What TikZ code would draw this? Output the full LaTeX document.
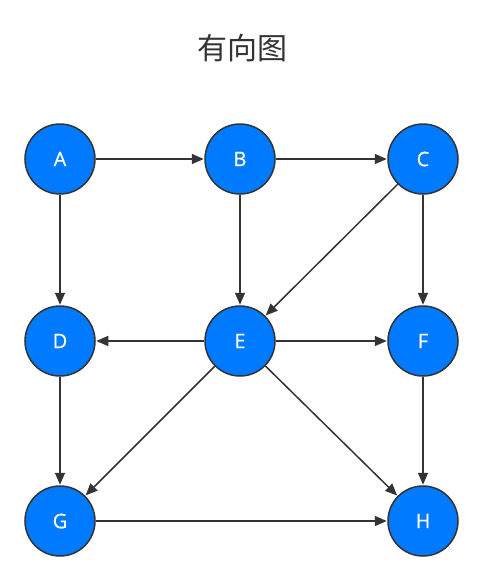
\documentclass[tikz,border=0pt]{standalone}
\usepackage{fontspec}
\setmainfont{Open Sans}
\newfontfamily\labelfont[FakeBold=0.7]{Open Sans}
\newfontfamily\cjk{Noto Sans CJK SC}
\usetikzlibrary{arrows.meta}
\definecolor{nodeblue}{RGB}{0,122,255}
\definecolor{edgegray}{RGB}{51,51,51}
\tikzset{
  vertex/.style={circle, minimum size=70pt, inner sep=0pt, fill=nodeblue,
    draw=edgegray, line width=1.5pt, text=white, font=\labelfont\fontsize{20}{20}\selectfont},
  edge/.style={draw=edgegray, line width=1.5pt,
    -{Triangle[length=12pt,width=10pt]}, shorten >=0.5pt}
}
\begin{document}
\begin{tikzpicture}[x=1pt,y=-1pt]
  \useasboundingbox (0,0) rectangle (483,579);
  \node[text=edgegray, font=\cjk\fontsize{30}{30}\selectfont] (title) at (242,48) {有向图};

  \node[vertex] (A) at (60,159) {A};
  \node[vertex] (B) at (240,159) {B};
  \node[vertex] (C) at (423,159) {C};
  \node[vertex] (D) at (60,341) {D};
  \node[vertex] (E) at (240,341) {E};
  \node[vertex] (F) at (423,341) {F};
  \node[vertex] (G) at (60,521) {G};
  \node[vertex] (H) at (423,521) {H};

  \draw[edge] (A) -- (B);
  \draw[edge] (B) -- (C);
  \draw[edge] (A) -- (D);
  \draw[edge] (B) -- (E);
  \draw[edge] (C) -- (E);
  \draw[edge] (C) -- (F);
  \draw[edge] (E) -- (D);
  \draw[edge] (E) -- (F);
  \draw[edge] (E) -- (G);
  \draw[edge] (E) -- (H);
  \draw[edge] (D) -- (G);
  \draw[edge] (F) -- (H);
  \draw[edge] (G) -- (H);
\end{tikzpicture}
\end{document}
